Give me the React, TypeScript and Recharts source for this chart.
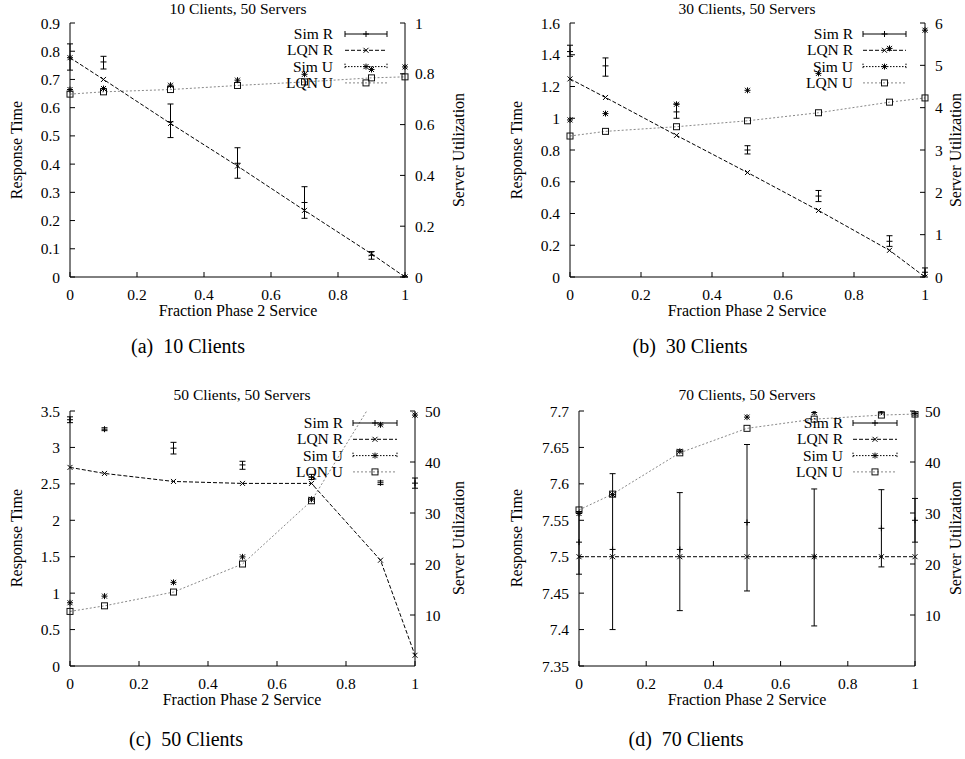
import { ComposedChart, Line, XAxis, YAxis, ErrorBar } from "recharts";

const FONT = "'Liberation Serif', 'Times New Roman', serif";

// x positions shared by all four runs
const FRACTION = [0, 0.1, 0.3, 0.5, 0.7, 0.9, 1];
const X_TICKS = [0, 0.2, 0.4, 0.6, 0.8, 1];

// (a) 10 clients
const simR10 = [0.777, 0.762, 0.55, 0.403, 0.264, 0.077, 0.0];
const simR10Lo = [0.733, 0.737, 0.494, 0.35, 0.208, 0.063, 0.0];
const simR10Hi = [0.826, 0.782, 0.613, 0.458, 0.32, 0.09, 0.0];
const lqnR10 = [0.777, 0.7, 0.544, 0.393, 0.236, 0.082, 0.0];
const simU10 = [0.738, 0.742, 0.755, 0.775, 0.798, 0.817, 0.827];
const lqnU10 = [0.72, 0.729, 0.738, 0.754, 0.768, 0.784, 0.788];

// (b) 30 clients
const simR30 = [1.42, 1.33, 1.04, 0.8, 0.51, 0.225, 0.03];
const simR30Lo = [1.39, 1.265, 1.0, 0.775, 0.475, 0.193, 0.0];
const simR30Hi = [1.46, 1.38, 1.09, 0.827, 0.545, 0.26, 0.057];
const lqnR30 = [1.248, 1.131, 0.892, 0.658, 0.419, 0.168, 0.0];
const simU30 = [3.71, 3.86, 4.08, 4.41, 4.81, 5.4, 5.83];
const lqnU30 = [3.33, 3.44, 3.55, 3.69, 3.88, 4.13, 4.23];

// (c) 50 clients
const simR50 = [3.38, 3.25, 2.99, 2.76, 2.59, 2.515, 2.51];
const simR50Lo = [3.34, 3.23, 2.91, 2.7, 2.56, 2.49, 2.44];
const simR50Hi = [3.42, 3.27, 3.07, 2.81, 2.63, 2.54, 2.58];
const lqnR50 = [2.726, 2.643, 2.533, 2.506, 2.506, 1.452, 0.147];
const simU50 = [12.4, 13.7, 16.4, 21.4, 32.7, 47.3, 49.2];
const lqnU50 = [10.7, 11.8, 14.5, 20.0, 32.4, 54.4, 56.0];

// (d) 70 clients
const simR70 = [7.52, 7.51, 7.51, 7.547, 7.5, 7.539, 7.55];
const simR70Lo = [7.476, 7.4, 7.426, 7.453, 7.405, 7.486, 7.52];
const simR70Hi = [7.562, 7.614, 7.588, 7.654, 7.593, 7.592, 7.58];
const lqnR70 = [7.5, 7.5, 7.5, 7.5, 7.5, 7.5, 7.5];
const simU70 = [29.9, 33.6, 42.1, 48.8, 49.7, 49.8, 49.5];
const lqnU70 = [30.6, 33.7, 41.8, 46.6, 48.4, 49.2, 49.4];

const buildRows = (
  simR: number[], lo: number[], hi: number[],
  lqnR: number[], simU: number[], lqnU: number[]
) =>
  FRACTION.map((x, i) => ({
    x,
    simR: simR[i],
    simRErr: [simR[i] - lo[i], hi[i] - simR[i]],
    lqnR: lqnR[i],
    simU: simU[i],
    lqnU: lqnU[i],
  }));

const Plus = ({ cx, cy }: any) => (
  <path d={`M${cx - 3},${cy}h6M${cx},${cy - 3}v6`} stroke="#000" fill="none" />
);
const Cross = ({ cx, cy }: any) => (
  <path d={`M${cx - 2.5},${cy - 2.5}l5,5M${cx - 2.5},${cy + 2.5}l5,-5`} stroke="#000" fill="none" />
);
const Star = ({ cx, cy }: any) => (
  <path
    d={`M${cx - 3},${cy}h6M${cx},${cy - 3}v6M${cx - 2.5},${cy - 2.5}l5,5M${cx - 2.5},${cy + 2.5}l5,-5`}
    stroke="#000"
    fill="none"
  />
);
const Square = ({ cx, cy }: any) => (
  <rect x={cx - 3} y={cy - 3} width={6} height={6} stroke="#111" fill="none" />
);

const tickStyle = { fill: "#000", fontSize: 15.5, fontFamily: FONT };
const noLabel = () => "";

interface PanelDef {
  l: number; r: number; t: number; b: number;
  rows: ReturnType<typeof buildRows>;
  leftDomain: number[]; leftTicks: number[];
  rightDomain: number[]; rightTicks: number[];
}

function Panel({ p }: { p: PanelDef }) {
  const w = p.r - p.l + 120;
  const h = p.b - p.t + 60;
  return (
    <div style={{ position: "absolute", left: p.l - 60, top: p.t - 20 }}>
      <ComposedChart width={w} height={h} data={p.rows} margin={{ top: 20, right: 15, bottom: 10, left: 15 }}>
        <XAxis xAxisId="top" orientation="top" type="number" dataKey="x" domain={[0, 1]} ticks={X_TICKS}
          height={0} tickSize={-5} tickFormatter={noLabel} interval={0}
          axisLine={{ stroke: "#000" }} tickLine={{ stroke: "#000" }} />
        <XAxis xAxisId="bot" orientation="bottom" type="number" dataKey="x" domain={[0, 1]} ticks={X_TICKS}
          height={30} tickSize={-5} tickMargin={17} interval={0} tick={tickStyle}
          axisLine={{ stroke: "#000" }} tickLine={{ stroke: "#000" }} />
        <YAxis yAxisId="lm" orientation="right" width={0} domain={p.leftDomain} ticks={p.leftTicks}
          allowDataOverflow interval={0} tickSize={-5} tickFormatter={noLabel} axisLine={false}
          tickLine={{ stroke: "#000" }} />
        <YAxis yAxisId="rm" orientation="left" width={0} domain={p.rightDomain} ticks={p.rightTicks}
          allowDataOverflow interval={0} tickSize={-5} tickFormatter={noLabel} axisLine={false}
          tickLine={{ stroke: "#000" }} />
        <YAxis yAxisId="l" orientation="left" width={45} domain={p.leftDomain} ticks={p.leftTicks}
          allowDataOverflow interval={0} tickSize={-5} tickMargin={15} tick={tickStyle}
          axisLine={{ stroke: "#000" }} tickLine={{ stroke: "#000" }} />
        <YAxis yAxisId="r" orientation="right" width={45} domain={p.rightDomain} ticks={p.rightTicks}
          allowDataOverflow interval={0} tickSize={-5} tickMargin={15} tick={tickStyle}
          axisLine={{ stroke: "#000" }} tickLine={{ stroke: "#000" }} />

        <Line xAxisId="bot" yAxisId="r" dataKey="lqnU" type="linear" stroke="#888" strokeDasharray="2 2"
          strokeWidth={1} isAnimationActive={false}
          dot={(d: any) => <Square key={`u${d.index}`} cx={d.cx} cy={d.cy} />} />
        <Line xAxisId="bot" yAxisId="l" dataKey="lqnR" type="linear" stroke="#000" strokeDasharray="4 2"
          strokeWidth={1} isAnimationActive={false}
          dot={(d: any) => <Cross key={`c${d.index}`} cx={d.cx} cy={d.cy} />} />
        <Line xAxisId="bot" yAxisId="r" dataKey="simU" type="linear" stroke="none" isAnimationActive={false}
          dot={(d: any) => <Star key={`s${d.index}`} cx={d.cx} cy={d.cy} />} />
        <Line xAxisId="bot" yAxisId="l" dataKey="simR" type="linear" stroke="none" isAnimationActive={false}
          dot={(d: any) => <Plus key={`p${d.index}`} cx={d.cx} cy={d.cy} />}>
          <ErrorBar dataKey="simRErr" direction="y" width={3} stroke="#000" strokeWidth={1} />
        </Line>
      </ComposedChart>
    </div>
  );
}

const PANELS: PanelDef[] = [
  {
    l: 70, r: 405, t: 23, b: 277,
    rows: buildRows(simR10, simR10Lo, simR10Hi, lqnR10, simU10, lqnU10),
    leftDomain: [0, 0.9], leftTicks: [0, 0.1, 0.2, 0.3, 0.4, 0.5, 0.6, 0.7, 0.8, 0.9],
    rightDomain: [0, 1], rightTicks: [0, 0.2, 0.4, 0.6, 0.8, 1],
  },
  {
    l: 570, r: 925, t: 23, b: 277,
    rows: buildRows(simR30, simR30Lo, simR30Hi, lqnR30, simU30, lqnU30),
    leftDomain: [0, 1.6], leftTicks: [0, 0.2, 0.4, 0.6, 0.8, 1, 1.2, 1.4, 1.6],
    rightDomain: [0, 6], rightTicks: [0, 1, 2, 3, 4, 5, 6],
  },
  {
    l: 70, r: 415, t: 411, b: 666,
    rows: buildRows(simR50, simR50Lo, simR50Hi, lqnR50, simU50, lqnU50),
    leftDomain: [0, 3.5], leftTicks: [0, 0.5, 1, 1.5, 2, 2.5, 3, 3.5],
    rightDomain: [0, 50], rightTicks: [10, 20, 30, 40, 50],
  },
  {
    l: 579, r: 915, t: 411, b: 666,
    rows: buildRows(simR70, simR70Lo, simR70Hi, lqnR70, simU70, lqnU70),
    leftDomain: [7.35, 7.7], leftTicks: [7.35, 7.4, 7.45, 7.5, 7.55, 7.6, 7.65, 7.7],
    rightDomain: [0, 50], rightTicks: [10, 20, 30, 40, 50],
  },
];

// text and legend placement for each panel
const TITLES = ["10 Clients, 50 Servers", "30 Clients, 50 Servers", "50 Clients, 50 Servers", "70 Clients, 50 Servers"];
const CAPTIONS = ["(a)  10 Clients", "(b)  30 Clients", "(c)  50 Clients", "(d)  70 Clients"];
const LEGEND_LABELS = ["Sim R", "LQN R", "Sim U", "LQN U"];

const LAYOUT = [
  { cx: 238, titleY: 14, xTitleY: 316, yMid: 150, leftX: 22, rightX: 464, capX: 188, capY: 353, legText: 333, legX0: 345, legX1: 387, legY: 34 },
  { cx: 747, titleY: 14, xTitleY: 316, yMid: 150, leftX: 522, rightX: 961, capX: 690, capY: 353, legText: 853, legX0: 863, legX1: 906, legY: 34 },
  { cx: 242, titleY: 400, xTitleY: 705, yMid: 538, leftX: 22, rightX: 464, capX: 186, capY: 746, legText: 343, legX0: 353, legX1: 397, legY: 423 },
  { cx: 747, titleY: 400, xTitleY: 705, yMid: 538, leftX: 522, rightX: 961, capX: 686, capY: 746, legText: 843, legX0: 853, legX1: 897, legY: 423 },
];

function LegendRow({ i, y, x0, x1, tx }: { i: number; y: number; x0: number; x1: number; tx: number }) {
  const mid = (x0 + x1) / 2;
  return (
    <g>
      <text x={tx} y={y + 5} textAnchor="end" fontSize={15.5} fontFamily={FONT}>{LEGEND_LABELS[i]}</text>
      {i === 0 && (
        <>
          <line x1={x0} y1={y} x2={x1} y2={y} stroke="#000" />
          <path d={`M${x0},${y - 3}v6M${x1},${y - 3}v6`} stroke="#000" />
          <Plus cx={mid} cy={y} />
        </>
      )}
      {i === 1 && (
        <>
          <line x1={x0} y1={y} x2={x1} y2={y} stroke="#000" strokeDasharray="4 2" />
          <Cross cx={mid} cy={y} />
        </>
      )}
      {i === 2 && (
        <>
          <line x1={x0} y1={y} x2={x1} y2={y} stroke="#000" strokeDasharray="1.5 1.5" />
          <path d={`M${x0},${y - 3}v6M${x1},${y - 3}v6`} stroke="#000" strokeDasharray="1.5 1.5" />
          <Star cx={mid} cy={y} />
        </>
      )}
      {i === 3 && (
        <>
          <line x1={x0} y1={y} x2={x1} y2={y} stroke="#888" strokeDasharray="2 2" />
          <Square cx={mid} cy={y} />
        </>
      )}
    </g>
  );
}

export default function App() {
  return (
    <div style={{ position: "absolute", left: 0, top: 0, width: 965, height: 759, background: "#fff", overflow: "hidden" }}>
      {PANELS.map((p, k) => (
        <Panel key={k} p={p} />
      ))}
      <svg width={965} height={759} style={{ position: "absolute", left: 0, top: 0, pointerEvents: "none" }}>
        {LAYOUT.map((L, k) => (
          <g key={k} fill="#000" fontFamily={FONT}>
            <text x={L.cx} y={L.titleY} textAnchor="middle" fontSize={15.5}>{TITLES[k]}</text>
            <text x={L.cx} y={L.xTitleY} textAnchor="middle" fontSize={16}>Fraction Phase 2 Service</text>
            <text transform={`translate(${L.leftX},${L.yMid}) rotate(-90)`} textAnchor="middle" fontSize={16}>Response Time</text>
            <text transform={`translate(${L.rightX},${L.yMid}) rotate(-90)`} textAnchor="middle" fontSize={16}>Server Utilization</text>
            <text x={L.capX} y={L.capY} textAnchor="middle" fontSize={20} style={{ whiteSpace: "pre" }}>{CAPTIONS[k]}</text>
            {LEGEND_LABELS.map((_, i) => (
              <LegendRow key={i} i={i} y={L.legY + i * 16.3} x0={L.legX0} x1={L.legX1} tx={L.legText} />
            ))}
          </g>
        ))}
      </svg>
    </div>
  );
}
